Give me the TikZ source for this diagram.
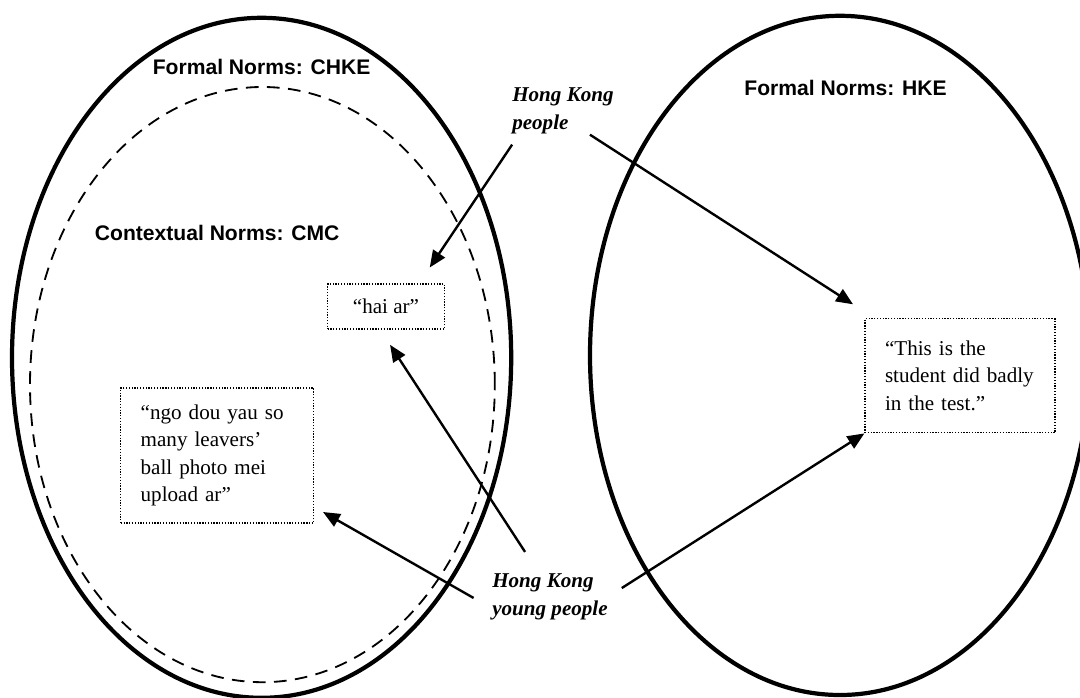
\documentclass[tikz,border=0pt]{standalone}
\usepackage{fontspec}
\setmainfont{Liberation Serif}
\setsansfont{Liberation Sans}
\usetikzlibrary{arrows.meta}

\begin{document}
\begin{tikzpicture}[
  norm/.style={font=\sffamily\bfseries\fontsize{15}{18}\selectfont},
  who/.style={font=\bfseries\itshape\fontsize{15}{20.5}\selectfont,align=left,inner sep=0pt},
  quote/.style={draw,dash pattern=on 0.9pt off 1.1pt,line width=0.9pt,font=\fontsize{15}{19.5}\selectfont,align=left,inner xsep=0.5cm},
  arr/.style={-{Triangle[length=12pt,width=10pt]},line width=1.7pt}
]
\useasboundingbox (0,0) rectangle (27,17.425);
% the two norm ellipses
\draw[line width=3pt] (6.54,8.48) ellipse (6.24 and 8.50);
\draw[line width=1.3pt,dash pattern=on 9pt off 6pt] (6.56,7.81) ellipse (5.81 and 7.44);
\draw[line width=3pt] (21.00,8.54) ellipse (6.25 and 8.49);
\node[norm] (chke) at (6.54,15.75) {Formal Norms: CHKE};
\node[norm] (cmc) at (5.43,11.60) {Contextual Norms: CMC};
\node[norm] (hke) at (21.14,15.23) {Formal Norms: HKE};
% utterances
\node[quote,align=center,minimum width=2.925cm,minimum height=1.125cm] (haiar) at (9.65,9.76) {“hai ar”};
\node[quote,text width=3.825cm,minimum height=3.375cm] (ngodou) at (5.43,6.04) {“ngo dou yau so\\many leavers’\\ball photo mei\\upload ar”};
\node[quote,text width=3.75cm,minimum height=2.85cm] (thisis) at (24.00,8.03) {“This is the\\student did badly\\in the test.”};
% speakers
\node[who,anchor=north west] (hkp) at (12.80,15.25) {Hong Kong\\people};
\node[who,anchor=north west] (hkyp) at (12.30,3.10) {Hong Kong\\young people};
\draw[arr,shorten <=0.3cm,shorten >=0.48cm] ([xshift=0.17cm]hkp.south west) -- (haiar.35);
\draw[arr,shorten >=0.64cm] ([xshift=-0.6cm]hkp.south east) -- (thisis.146);
\draw[arr,shorten <=0.63cm,shorten >=0.45cm] ([xshift=1.17cm]hkyp.north west) -- (haiar.-104);
\draw[arr,shorten <=0.53cm,shorten >=0.25cm] ([yshift=-0.29cm]hkyp.west) -- (ngodou.-28);
\draw[arr,shorten <=0.41cm] (hkyp.east) -- (thisis.south west);
\end{tikzpicture}
\end{document}
